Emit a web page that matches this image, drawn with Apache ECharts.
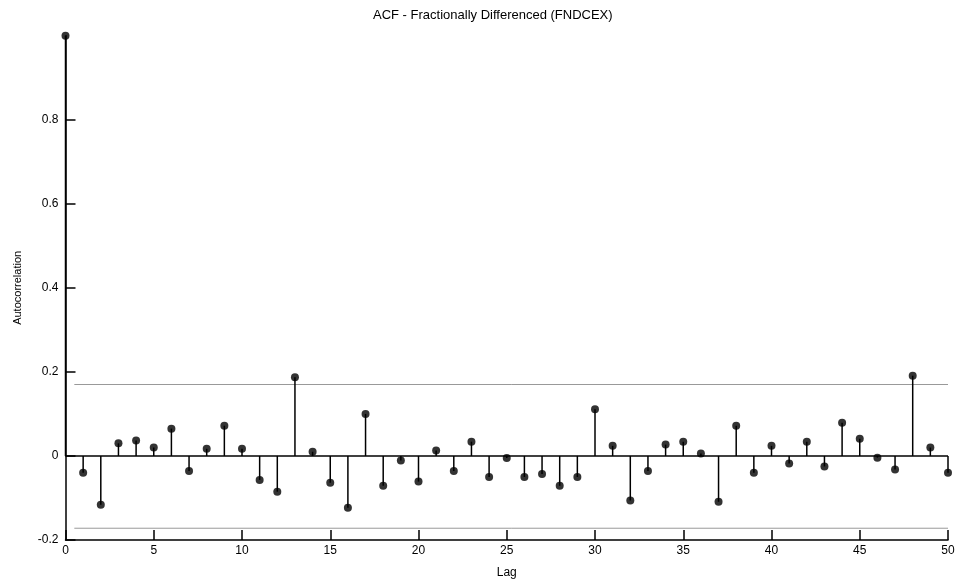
<!DOCTYPE html>
<html>
<head>
<meta charset="utf-8">
<script src="https://cdn.jsdelivr.net/npm/echarts@6/dist/echarts.min.js"></script>
<style>html,body{margin:0;padding:0;background:#fff}#c{width:959px;height:584px}</style>
</head>
<body>
<div id="c"></div>
<script>
const lags = [0,1,2,3,4,5,6,7,8,9,10,11,12,13,14,15,16,17,18,19,20,21,22,23,24,25,26,27,28,29,30,31,32,33,34,35,36,37,38,39,40,41,42,43,44,45,46,47,48,49,50];
const acf = [1.0,-0.040,-0.116,0.030,0.037,0.020,0.065,-0.036,0.017,0.072,0.017,-0.057,-0.085,0.187,0.010,
  -0.064,-0.123,0.100,-0.071,-0.011,-0.061,0.013,-0.036,0.034,-0.050,-0.005,-0.050,-0.043,-0.071,-0.050,
  0.111,0.024,-0.106,-0.036,0.027,0.034,0.006,-0.109,0.072,-0.040,0.024,-0.018,0.034,-0.025,0.079,
  0.041,-0.004,-0.032,0.191,0.020,-0.040];
const confUpper = 0.17;
const confLower = -0.172;
const confRange = [0.5, 50];
const xTicks = [0,5,10,15,20,25,30,35,40,45,50];
const yTicks = [-0.2,0,0.2,0.4,0.6,0.8];
const yTickLabels = ['-0.2','0','0.2','0.4','0.6','0.8'];

const pts = lags.map((l,i)=>[l, acf[i]]);
const font = 'Liberation Sans';
const chart = echarts.init(document.getElementById('c'));
chart.setOption({
  animation:false,
  backgroundColor:'#fff',
  title:{text:'ACF - Fractionally Differenced (FNDCEX)', left:368, top:4,
    textStyle:{fontFamily:font,fontSize:13,fontWeight:'normal',color:'#000'}},
  grid:{left:65.5, right:11, top:35.7, bottom:42},
  xAxis:{type:'value', min:0, max:50, interval:5, name:'Lag', nameLocation:'middle', nameGap:27,
    nameTextStyle:{fontFamily:font,fontSize:12,color:'#000'},
    axisLine:{onZero:false,lineStyle:{color:'#000',width:1.5}},
    axisTick:{inside:true,length:10,customValues:xTicks,lineStyle:{color:'#000',width:1.5}},
    axisLabel:{fontFamily:font,fontSize:12,color:'#000',margin:5,customValues:xTicks,
      formatter:v=>String(v)},
    splitLine:{show:false}},
  yAxis:{type:'value', min:-0.2, max:1.0, interval:0.2, name:'Autocorrelation', nameLocation:'middle', nameGap:42,
    nameTextStyle:{fontFamily:font,fontSize:11,color:'#000'},
    axisLine:{onZero:false,lineStyle:{color:'#000',width:1.5}},
    axisTick:{inside:true,length:10,customValues:yTicks,lineStyle:{color:'#000',width:1.5}},
    axisLabel:{fontFamily:font,fontSize:12,color:'#000',margin:7,customValues:yTicks,
      formatter:v=>{const i=yTicks.findIndex(t=>Math.abs(t-v)<1e-9); return i>=0?yTickLabels[i]:'';}},
    splitLine:{show:false}},
  series:[
    {type:'line', data:[[confRange[0],confUpper],[confRange[1],confUpper]], symbol:'none',
      lineStyle:{color:'#999',width:1}, silent:true, z:1},
    {type:'line', data:[[confRange[0],confLower],[confRange[1],confLower]], symbol:'none',
      lineStyle:{color:'#999',width:1}, silent:true, z:1},
    {type:'line', data:[[0,0],[50,0]], symbol:'none', lineStyle:{color:'#000',width:1.5}, silent:true, z:2},
    {type:'custom', z:3, data:pts,
      renderItem:(params, api)=>{
        const x=api.value(0), y=api.value(1);
        const p0=api.coord([x,0]), p1=api.coord([x,y]);
        return {type:'line', shape:{x1:p0[0],y1:p0[1],x2:p1[0],y2:p1[1]}, style:{stroke:'#000',lineWidth:1.5}};
      }},
    {type:'scatter', z:4, data:pts, symbol:'circle', symbolSize:8, itemStyle:{color:'#000'}}
  ]
});
</script>
</body>
</html>
